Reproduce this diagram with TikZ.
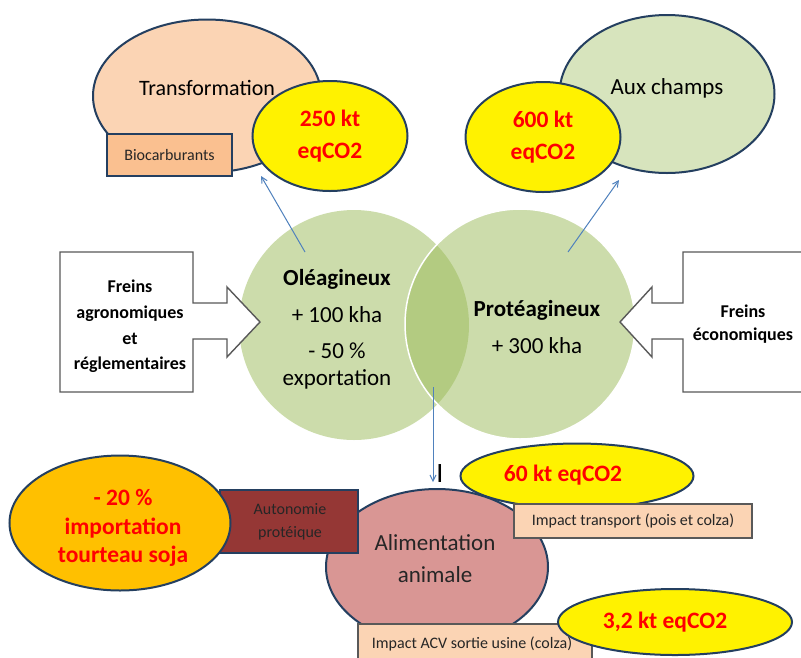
\documentclass[tikz,border=0pt]{standalone}
\usepackage{fontspec}
\setmainfont{Carlito}
\usetikzlibrary{shapes.geometric,arrows.meta,calc}
\definecolor{navy}{HTML}{243F60}
\definecolor{peach}{HTML}{FBD4B4}
\definecolor{peachdark}{HTML}{FAC090}
\definecolor{olivelight}{HTML}{D7E4BD}
\definecolor{olive}{HTML}{9BBB59}
\definecolor{connblue}{HTML}{4F81BD}
\definecolor{orangeacc}{HTML}{FFC000}
\definecolor{darkred}{HTML}{953735}
\definecolor{rose}{HTML}{D99694}
\definecolor{edgegray}{HTML}{595959}
\definecolor{darktext}{HTML}{262626}
\tikzset{
  ell/.style={ellipse, draw=navy, line width=2pt, inner sep=0pt, align=center},
  yell/.style={ell, fill=yellow, text=red, font=\bfseries\fontsize{23.5}{32}\selectfont},
  navybox/.style={rectangle, draw=navy, line width=2pt, inner sep=0pt},
  impactbox/.style={rectangle, draw=edgegray, line width=1.2pt, fill=peach, inner sep=0pt},
  bigtxt/.style={font=\fontsize{23}{32}\selectfont, text=black, inner sep=0pt, text height=19pt, text depth=1.6pt},
  redtxt/.style={text=red, font=\bfseries\fontsize{23.5}{28}\selectfont, inner sep=0pt, text height=19.5pt, text depth=1.7pt},
  smallone/.style={font=\fontsize{16}{20}\selectfont, text=darktext, inner sep=0pt, text height=15pt, text depth=0pt},
  smalltxt/.style={font=\fontsize{16}{23}\selectfont, text=darktext, inner sep=0pt, align=center},
  freintxt/.style={font=\bfseries\fontsize{18}{25.8}\selectfont, align=center, inner sep=0pt},
  venn/.style={circle, minimum size=230pt, inner sep=0pt, fill=olive, fill opacity=0.5},
  blockarrow/.style={draw=edgegray, line width=1.4pt, fill=white, line join=miter},
  conn/.style={draw=connblue, line width=1pt, -{Straight Barb[length=6pt,width=6pt]}}
}
\begin{document}
\begin{tikzpicture}[x=1pt,y=-1pt]
\path[use as bounding box] (0,0) rectangle (801,657);
\clip (0,0) rectangle (801,657);
\fill[white] (0,0) rectangle (801,657);

% Transformation group
\node[ell, fill=peach, minimum width=228pt, minimum height=153pt] (trans) at (207,96) {};
\node[bigtxt, font=\fontsize{22}{28}\selectfont] (transT) at (207,87) {Transformation};
\node[navybox, fill=peachdark, minimum width=125pt, minimum height=42pt, font=\fontsize{16}{20}\selectfont, text=darktext] (bio) at (169.5,155) {Biocarburants};
\node[yell, minimum width=155pt, minimum height=110pt] (e250) at (330,136) {250 kt\\eqCO2};

% Aux champs group
\node[ell, fill=olivelight, minimum width=215pt, minimum height=158pt] (champs) at (667,94) {};
\node[bigtxt] (champsT) at (667,86) {Aux champs};
\node[yell, minimum width=155pt, minimum height=110pt] (e600) at (543,137) {600 kt\\eqCO2};

% Venn circles
\node[venn] (ole) at (354,325) {};
\node[venn, draw=white, draw opacity=1, line width=1.5pt] (prot) at (520,324) {};
\node[bigtxt, font=\bfseries\fontsize{23}{32}\selectfont] (oleT) at (337,277) {Oléagineux};
\node[bigtxt] (ole2) at (337,314) {+ 100 kha};
\node[bigtxt] (ole3) at (337,350) {- 50 \%};
\node[bigtxt] (ole4) at (337,377) {exportation};
\node[bigtxt, font=\bfseries\fontsize{23}{32}\selectfont] (protT) at (537,308) {Protéagineux};
\node[bigtxt] (prot2) at (537,345) {+ 300 kha};

% connectors up
\coordinate (o1) at (305,252);
\coordinate (t1) at (261,176);
\coordinate (p1) at (568,252);
\coordinate (t2) at (619,180);
\draw[conn] (o1) -- (t1);
\draw[conn] (p1) -- (t2);

% block arrows
\draw[blockarrow] (60,252) -- (193,252) -- (193,303) -- (227,303) -- (227,287) -- (260,322)
  -- (227,357) -- (227,339) -- (193,339) -- (193,392) -- (60,392) -- cycle;
\node[freintxt] (freinsL) at (130,326.5) {Freins\\agronomiques\\et\\réglementaires};
\draw[blockarrow] (820,252) -- (683,252) -- (683,303) -- (652,303) -- (652,287) -- (620,322)
  -- (652,357) -- (652,339) -- (683,339) -- (683,392) -- (820,392);
\node[freintxt, font=\bfseries\fontsize{18}{23.5}\selectfont] (freinsR) at (743,324) {Freins\\économiques};

% down connector
\coordinate (v1) at (433,387);
\coordinate (v2) at (433,482);
\draw[conn] (v1) -- (v2);
\node[anchor=base, inner sep=0pt, font=\fontsize{28}{30}\selectfont] (cursor) at (440,482) {I};

% Alimentation group
\node[ell, fill=rose, minimum width=222pt, minimum height=156pt] (alim) at (437,567) {};
\node[font=\fontsize{23}{32}\selectfont, text=darktext, align=center, inner sep=0pt] (alimT) at (435,559) {Alimentation\\animale};
\node[yell, minimum width=233pt, minimum height=65pt] (e60) at (577,476) {};
\node[redtxt] (e60T) at (563,473) {60 kt eqCO2};
\node[impactbox, minimum width=238pt, minimum height=34pt, font=\fontsize{16}{20}\selectfont, text=darktext] (transp) at (633,521) {Impact transport (pois et colza)};
\node[navybox, fill=darkred, minimum width=138pt, minimum height=63pt] (auto) at (289,521.5) {};
\node[smalltxt] (autoT) at (290,522) {Autonomie\\protéique};
\node[ell, fill=orangeacc, minimum width=221pt, minimum height=135pt] (soja) at (120,523) {};
\node[text=red, font=\bfseries\fontsize{23.5}{28.5}\selectfont, align=center, inner sep=0pt] (sojaT) at (123,528) {- 20 \%\\importation\\tourteau soja};
\node[impactbox, minimum width=234pt, minimum height=46pt] (acv) at (475,647) {};
\node[smallone] (acvT) at (472,641) {Impact ACV sortie usine (colza)};
\node[yell, minimum width=234pt, minimum height=66pt] (e32) at (675,622) {};
\node[redtxt] (e32T) at (665,620) {3,2 kt eqCO2};
\end{tikzpicture}
\end{document}
